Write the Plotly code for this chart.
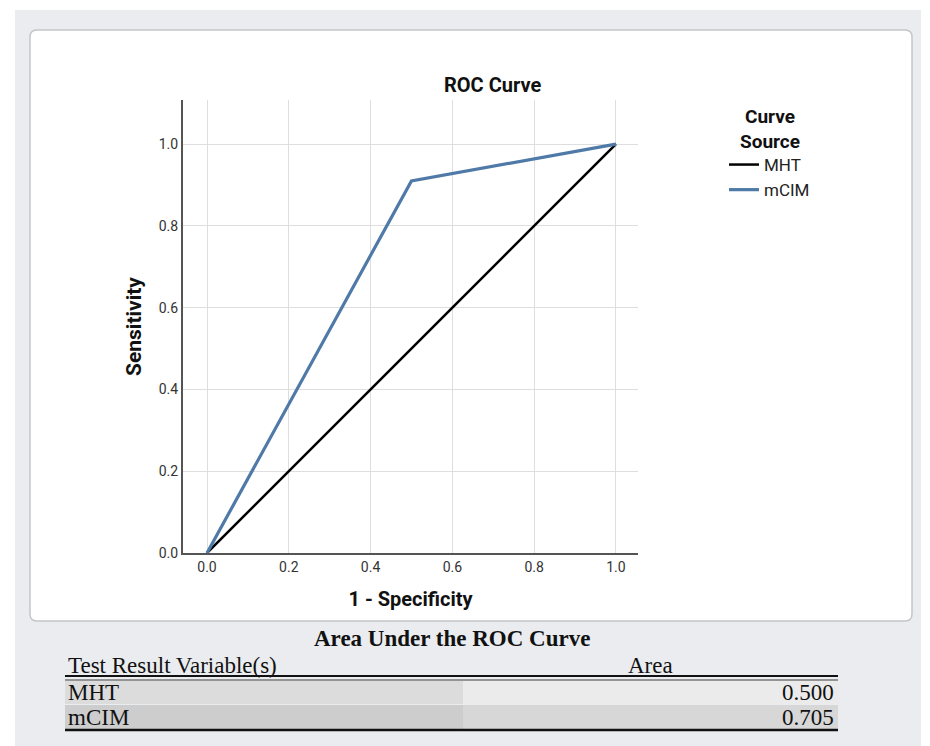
import plotly.graph_objects as go

# ---- data ----
series_names = ["MHT", "mCIM"]
mht_fpr = [0.0, 1.0]
mht_tpr = [0.0, 1.0]
mcim_fpr = [0.0, 0.5, 1.0]
mcim_tpr = [0.0, 0.91, 1.0]
series_colors = ["#000000", "#4f7aa8"]
tick_vals = [0.0, 0.2, 0.4, 0.6, 0.8, 1.0]
tick_text = ["0.0", "0.2", "0.4", "0.6", "0.8", "1.0"]
auc_vars = ["MHT", "mCIM"]
auc_vals = ["0.500", "0.705"]

# page body has an 8px margin -> figure starts at (8, 8)
OFF = 8
W, H = 930 - OFF, 746 - OFF
L, R, T, B = 183, 638, 100, 553  # plot area in page pixels


def px(x):
    return (x - L) / (R - L)


def py(y):
    return (B - y) / (B - T)


fig = go.Figure()
fig.add_trace(go.Scatter(x=mht_fpr, y=mht_tpr, mode="lines", name=series_names[0],
                         line=dict(color=series_colors[0], width=2.5)))
fig.add_trace(go.Scatter(x=mcim_fpr, y=mcim_tpr, mode="lines", name=series_names[1],
                         line=dict(color=series_colors[1], width=3.2)))

shapes = []
# outer gray panel
shapes.append(dict(type="rect", xref="paper", yref="paper", layer="below",
                   x0=px(15), x1=px(921), y0=py(10), y1=py(746),
                   fillcolor="#eaecef", line=dict(width=0)))
# rounded white box
x0, x1, y0, y1, r = 30, 912, 30, 621, 7
path = (f"M {px(x0+r)},{py(y0)} L {px(x1-r)},{py(y0)} Q {px(x1)},{py(y0)} {px(x1)},{py(y0+r)} "
        f"L {px(x1)},{py(y1-r)} Q {px(x1)},{py(y1)} {px(x1-r)},{py(y1)} "
        f"L {px(x0+r)},{py(y1)} Q {px(x0)},{py(y1)} {px(x0)},{py(y1-r)} "
        f"L {px(x0)},{py(y0+r)} Q {px(x0)},{py(y0)} {px(x0+r)},{py(y0)} Z")
shapes.append(dict(type="path", xref="paper", yref="paper", layer="below", path=path,
                   fillcolor="#ffffff", line=dict(color="#c4c6c9", width=1.5)))
# table row backgrounds
row_tops = [681, 705]
row_bots = [704, 729]
left_cols = ["#dcdcdc", "#cdcdcd"]
right_cols = ["#ebebeb", "#d7d7d7"]
for t, b, lc, rc in zip(row_tops, row_bots, left_cols, right_cols):
    shapes.append(dict(type="rect", xref="paper", yref="paper", layer="below",
                       x0=px(65), x1=px(463), y0=py(b), y1=py(t), fillcolor=lc, line=dict(width=0)))
    shapes.append(dict(type="rect", xref="paper", yref="paper", layer="below",
                       x0=px(463), x1=px(838), y0=py(b), y1=py(t), fillcolor=rc, line=dict(width=0)))
# table lines
shapes.append(dict(type="line", xref="paper", yref="paper", x0=px(65), x1=px(838),
                   y0=py(676), y1=py(676), line=dict(color="#111111", width=2)))
shapes.append(dict(type="line", xref="paper", yref="paper", x0=px(65), x1=px(838),
                   y0=py(680), y1=py(680), line=dict(color="#777777", width=1.5)))
shapes.append(dict(type="line", xref="paper", yref="paper", x0=px(65), x1=px(838),
                   y0=py(730), y1=py(730), line=dict(color="#111111", width=2.5)))

TF = "Liberation Serif"
annotations = [
    dict(text="<b>ROC Curve</b>", x=px(492), y=py(85), xref="paper", yref="paper",
         showarrow=False, font=dict(family="Roboto", size=20, color="#111111"),
         xanchor="center", yanchor="middle"),
    dict(text="<b>Curve<br>Source</b>", x=px(770), y=py(128.5), xref="paper", yref="paper",
         showarrow=False, font=dict(family="Roboto", size=19, color="#111111"),
         xanchor="center", yanchor="middle", align="center"),
    dict(text="<b>Area Under the ROC Curve</b>", x=px(452), y=py(638), xref="paper", yref="paper",
         showarrow=False, font=dict(family=TF, size=23, color="#111111"),
         xanchor="center", yanchor="middle"),
    dict(text="Test Result Variable(s)", x=px(66), y=py(665), xref="paper", yref="paper",
         showarrow=False, font=dict(family=TF, size=23, color="#111111"),
         xanchor="left", yanchor="middle"),
    dict(text="Area", x=px(650), y=py(665), xref="paper", yref="paper",
         showarrow=False, font=dict(family=TF, size=23, color="#111111"),
         xanchor="center", yanchor="middle"),
]
for i, (name, val) in enumerate(zip(auc_vars, auc_vals)):
    yc = (row_tops[i] + row_bots[i]) / 2
    annotations.append(dict(text=name, x=px(66), y=py(yc), xref="paper", yref="paper",
                            showarrow=False, font=dict(family=TF, size=23, color="#111111"),
                            xanchor="left", yanchor="middle"))
    annotations.append(dict(text=val, x=px(836), y=py(yc), xref="paper", yref="paper",
                            showarrow=False, font=dict(family=TF, size=23, color="#111111"),
                            xanchor="right", yanchor="middle"))

fig.update_layout(
    width=W, height=H,
    margin=dict(l=L - OFF, r=930 - R, t=T - OFF, b=746 - B, pad=0),
    paper_bgcolor="#ffffff",
    plot_bgcolor="#ffffff",
    font=dict(family="Roboto", color="#222222"),
    shapes=shapes,
    annotations=annotations,
    showlegend=True,
    legend=dict(
        x=px(724), y=py(147), xref="paper", yref="paper", xanchor="left", yanchor="top",
        font=dict(family="Roboto", size=17, color="#222222"),
        bgcolor="rgba(0,0,0,0)", itemwidth=30, tracegroupgap=0,
    ),
)
fig.update_xaxes(
    range=[-0.0587, 1.054], tickvals=tick_vals, ticktext=tick_text,
    showgrid=True, gridcolor="#dedede", gridwidth=1, zeroline=False,
    showline=True, linecolor="#555555", linewidth=2, ticks="",
    tickfont=dict(family="Roboto", size=14, color="#333333"),
    title=dict(text="<b>1 - Specificity</b>", font=dict(family="Roboto", size=20, color="#111111"),
               standoff=18),
)
fig.update_yaxes(
    range=[0, 1.108], tickvals=tick_vals, ticktext=tick_text,
    showgrid=True, gridcolor="#dedede", gridwidth=1, zeroline=False,
    showline=True, linecolor="#555555", linewidth=2, ticks="",
    tickfont=dict(family="Roboto", size=14, color="#333333"),
    title=dict(text="<b>Sensitivity</b>", font=dict(family="Roboto", size=21, color="#111111"),
               standoff=11),
)

fig.write_html("out.html")
